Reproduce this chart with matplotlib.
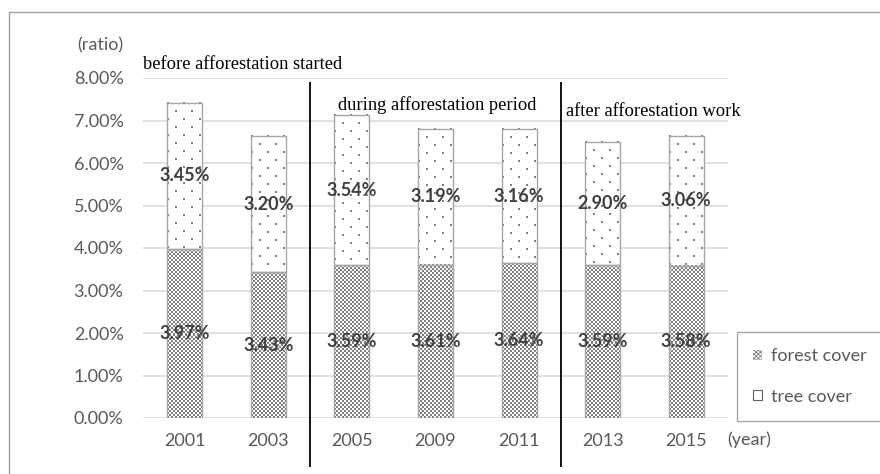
import numpy as np
import matplotlib.pyplot as plt
from matplotlib.colors import ListedColormap
from matplotlib.patches import Patch, Rectangle

years = ["2001", "2003", "2005", "2009", "2011", "2013", "2015"]
forest = [3.97, 3.43, 3.59, 3.61, 3.64, 3.59, 3.58]
tree = [3.45, 3.20, 3.54, 3.19, 3.16, 2.90, 3.06]
periods = ["before afforestation started", "during afforestation period", "after afforestation work"]
dividers = [1.5, 4.5]

forest_f = [v / 100 for v in forest]
tree_f = [v / 100 for v in tree]
total_f = [a + b for a, b in zip(forest_f, tree_f)]

plt.rcParams["font.family"] = ["Lato", "DejaVu Sans"]
plt.rcParams["hatch.linewidth"] = 0.5

W, H = 880, 474
AX_W, AX_H = 585, 340
YMAX = 0.08
fig = plt.figure(figsize=(W / 100, H / 100), dpi=100)
ax = fig.add_axes([143 / W, 1 - 418 / H, AX_W / W, AX_H / H])

x = list(range(len(years)))
bw = 0.42
edge = "#a6a6a6"
txt = "#595959"
pat = "#7f7f7f"
# data units per pixel
px_x = len(years) / AX_W
px_y = YMAX / AX_H

ax.bar(x, forest_f, bw, color="white", linewidth=0, zorder=2)
ax.bar(x, tree_f, bw, bottom=forest_f, color="white", linewidth=0, zorder=2)

checker = ListedColormap(["white", pat])
for i in x:
    x0 = i - bw / 2
    # forest cover: 2px checker texture
    nx = int(round(bw / px_x / 2))
    ny = int(round(forest_f[i] / px_y / 2))
    board = np.indices((ny, nx)).sum(axis=0) % 2
    ax.imshow(board, cmap=checker, extent=(x0, x0 + bw, 0, forest_f[i]),
              aspect="auto", interpolation="nearest", zorder=2.2)
    # tree cover: staggered dot texture
    xs, ys = [], []
    for k, yy in enumerate(np.arange(total_f[i], forest_f[i], -8 * px_y)):
        for off in (range(1, 36, 16) if k % 2 == 0 else range(9, 36, 16)):
            xs.append(x0 + off * px_x)
            ys.append(yy)
    ax.scatter(xs, ys, s=1.3, marker="s", color=pat, linewidths=0, zorder=2.3)

ax.bar(x, forest_f, bw, fill=False, edgecolor=edge, linewidth=1, zorder=3)
ax.bar(x, tree_f, bw, bottom=forest_f, fill=False, edgecolor=edge, linewidth=1, zorder=3)

for i in x:
    ax.text(i, forest_f[i] / 2, f"{forest[i]:.2f}%", ha="center", va="center",
            fontsize=13, fontweight="bold", color="#404040", zorder=4)
    ax.text(i, forest_f[i] + tree_f[i] / 2, f"{tree[i]:.2f}%", ha="center", va="center",
            fontsize=13, fontweight="bold", color="#404040", zorder=4)

ax.set_xlim(-0.5, len(years) - 0.5)
ax.set_ylim(0, YMAX)
ax.set_yticks([i / 100 for i in range(9)])
ax.set_yticklabels([f"{i:.2f}%" for i in range(9)])
ax.set_xticks(x)
ax.set_xticklabels(years)
ax.tick_params(length=0, labelsize=13, labelcolor=txt)
ax.tick_params(axis="y", pad=14)
ax.tick_params(axis="x", pad=11)
ax.yaxis.grid(True, color="#d9d9d9", linewidth=1.1, zorder=0)
ax.set_axisbelow(True)
for s in ax.spines.values():
    s.set_visible(False)

# period dividers
ax.vlines(dividers, -0.0115, 0.0791, color="black", linewidth=1.3, clip_on=False, zorder=5)

serif = ["Liberation Serif", "DejaVu Serif"]
ax.text(-0.5, 0.0831, periods[0], ha="left", va="center", fontsize=13.3, family=serif, clip_on=False)
ax.text(1.83, 0.0736, periods[1], ha="left", va="center", fontsize=13.3, family=serif)
ax.text(4.56, 0.0722, periods[2], ha="left", va="center", fontsize=13.3, family=serif)

fig.text(100 / W, 1 - 45 / H, "(ratio)", ha="center", va="center", fontsize=13, color=txt)
fig.text(727 / W, 1 - 440 / H, "(year)", ha="left", va="center", fontsize=13, color=txt)

handles = [
    Patch(facecolor="white", edgecolor="#6e6e6e", hatch="xxxxxxxx", linewidth=0),
    Patch(facecolor="white", edgecolor="#606060", hatch=".", linewidth=0.8),
]
leg = fig.legend(handles, ["forest cover", "tree cover"], loc="upper left",
                 bbox_to_anchor=(737 / W, 1 - 332 / H), borderaxespad=0,
                 fontsize=13, handlelength=0.5, handleheight=0.5, handletextpad=0.5,
                 labelspacing=1.35, borderpad=0.9, fancybox=False, framealpha=1)
leg.get_frame().set_edgecolor("#a6a6a6")
leg.get_frame().set_linewidth(1)
for t in leg.get_texts():
    t.set_color(txt)

# outer chart frame
fig.patches.append(Rectangle((9 / W, -0.05), 1.2, 1.05 - 12 / H, transform=fig.transFigure,
                             fill=False, edgecolor="#a0a0a0", linewidth=1))

fig.savefig("out.png", dpi=100)
